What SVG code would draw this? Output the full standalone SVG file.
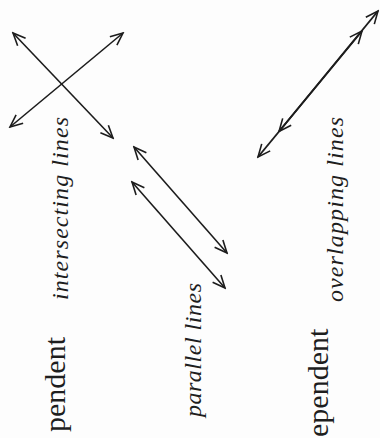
<svg xmlns="http://www.w3.org/2000/svg" width="380" height="438" viewBox="0 0 380 438">
<defs>
<marker id="ah" viewBox="-14 -7 16 14" markerWidth="16" markerHeight="14" refX="0" refY="0" orient="auto-start-reverse" markerUnits="userSpaceOnUse">
<path d="M-12.5,-5.5 L0,0 L-12.5,5.5" fill="none" stroke="#1c1c1c" stroke-width="1.6" stroke-linejoin="miter"/>
</marker>
</defs>
<style>
.ln{fill:none;stroke:#1c1c1c;stroke-width:1.6;marker-start:url(#ah);marker-end:url(#ah)}
.ov{stroke-width:1.9}
.lab{font-family:"Liberation Serif","Times New Roman",serif;font-style:italic;font-size:24px;fill:#1e1e1e}
.big{font-family:"Liberation Serif","Times New Roman",serif;font-size:30px;fill:#1e1e1e}
</style>
<rect width="380" height="438" fill="#fdfdfd"/>
<g id="connectors">
<path class="ln" d="M13,33 L113,138"/>
<path class="ln" d="M123,33 L10,127"/>
<path class="ln" d="M134,147 L227,253"/>
<path class="ln" d="M132,182 L225,288"/>
<path class="ln ov" d="M258,157 L362,31"/>
<path class="ln ov" d="M279,131.5 L378,11"/>
</g>
<g id="intersecting">
<text class="lab" transform="translate(68,300) rotate(-90)" textLength="183" lengthAdjust="spacing">intersecting lines</text>
</g>
<g id="parallel">
<text class="lab" transform="translate(201,417) rotate(-90)" textLength="134" lengthAdjust="spacing">parallel lines</text>
</g>
<g id="overlapping">
<text class="lab" transform="translate(343,302) rotate(-90)" textLength="185" lengthAdjust="spacing">overlapping lines</text>
</g>
<g id="pendent-left">
<text class="big" transform="translate(65,432) rotate(-90)">pendent</text>
</g>
<g id="pendent-right">
<text class="big" transform="translate(328,437) rotate(-90)">ependent</text>
</g>
</svg>
